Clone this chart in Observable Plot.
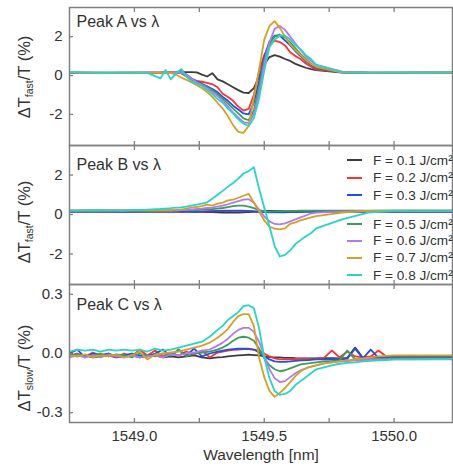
<!DOCTYPE html>
<html><head><meta charset="utf-8">
<script src="https://cdn.jsdelivr.net/npm/d3@7"></script>
<script src="https://cdn.jsdelivr.net/npm/@observablehq/plot@0.6"></script>
<style>
body{margin:0;background:#fff;font-family:"Liberation Sans",Arial,sans-serif;}
#chart{position:relative;width:453px;height:470px;overflow:hidden;background:#fff;}
#chart .panel{position:absolute;left:0;}
.ylab{position:absolute;left:25px;white-space:nowrap;font-size:16.5px;color:#333;transform:translate(-50%,-50%) rotate(-90deg);}
.ylab sub{font-size:10.5px;vertical-align:-3px;}
.leg{position:absolute;height:16px;display:flex;align-items:center;font-size:13.6px;color:#333;white-space:nowrap;}
.leg span.sw{display:inline-block;width:15px;height:2px;margin-right:11px;}
</style></head><body><div id="chart"></div><script>
// ---------- data ----------
const fluences = ["F = 0.1 J/cm²","F = 0.2 J/cm²","F = 0.3 J/cm²","F = 0.5 J/cm²","F = 0.6 J/cm²","F = 0.7 J/cm²","F = 0.8 J/cm²"];
const colors = ["#3c3c3c","#ff3030","#2050e8","#3a9e5a","#b478f0","#d6a11c","#22d6c8"];
const panelTitles = ["Peak A vs λ","Peak B vs λ","Peak C vs λ"];
const xTicks = [1549.0, 1549.25, 1549.5, 1549.75, 1550.0];
const xTickLabels = [1549.0, 1549.5, 1550.0];
const yTicksAB = [-2, 0, 2];
const yTicksC = [-0.3, 0.0, 0.3];

const gridAB = [1548.75,1548.85,1548.95,1549.05,1549.10,1549.12,1549.14,1549.16,1549.18,1549.20,1549.22,1549.24,1549.26,1549.28,1549.30,1549.32,1549.34,1549.36,1549.38,1549.40,1549.42,1549.44,1549.46,1549.48,1549.50,1549.52,1549.54,1549.56,1549.58,1549.60,1549.62,1549.64,1549.66,1549.68,1549.70,1549.80,1549.90,1550.00,1550.10,1550.25];

// Peak A (fast)
const a01 = [0.15,0.13,0.14,0.15, 0.15,0.16,0.15,0.16,0.16,0.17,0.17,0.16,0.05,-0.05,0.12, -0.2,-0.3,-0.45,-0.6,-0.75,-0.88,-0.9,-0.65,-0.05,0.55,0.95,1.05,0.97,0.85,0.75,0.6,0.5,0.4,0.33,0.28, 0.15,0.14,0.15,0.13,0.15];
const a02 = [0.13,0.15,0.12,0.14, 0.14,0.15,0.16,0.15,0.12,-0.05,-0.2,-0.28,-0.32,-0.38,-0.45, -0.6,-0.94,-1.1,-1.3,-1.6,-1.8,-1.72,-1.0,0.2,1.05,1.55,1.8,1.72,1.55,1.2,1.0,0.85,0.62,0.45,0.3, 0.17,0.15,0.13,0.15,0.14];
const a03 = [0.12,0.14,0.13,0.15, 0.15,0.14,0.15,0.13,0.3,0.05,-0.15,-0.3,-0.43,-0.55,-0.7, -0.85,-1.1,-1.3,-1.55,-1.75,-1.95,-2.0,-1.4,-0.3,0.95,1.75,2.05,2.05,1.8,1.55,1.25,1.0,0.75,0.55,0.38, 0.16,0.13,0.14,0.15,0.13];
const a05 = [0.14,0.15,0.13,0.14, 0.15,0.16,0.14,0.15,0.12,0.0,-0.2,-0.35,-0.45,-0.6,-0.75, -0.95,-1.2,-1.45,-1.7,-1.95,-2.2,-2.3,-1.8,-0.6,0.8,1.65,2.0,2.1,1.95,1.7,1.4,1.1,0.85,0.6,0.42, 0.18,0.15,0.14,0.15,0.14];
const a06 = [0.16,0.14,0.15,0.16, 0.15,0.17,0.15,0.16,0.15,0.05,-0.15,-0.35,-0.5,-0.65,-0.85, -1.05,-1.3,-1.6,-1.9,-2.15,-2.4,-2.45,-2.0,-0.9,0.6,1.7,2.4,2.55,2.35,2.0,1.65,1.3,1.0,0.75,0.55, 0.2,0.16,0.15,0.16,0.15];
const a07 = [0.15,0.14,0.16,0.15, 0.15,0.13,0.12,0.05,-0.1,-0.22,-0.35,-0.5,-0.65,-0.85,-1.1, -1.4,-1.7,-2.1,-2.55,-2.9,-2.95,-2.6,-1.15,0.3,1.85,2.55,2.8,2.45,2.0,1.6,1.3,1.05,0.8,0.6,0.45, 0.15,0.14,0.15,0.14,0.15];
const a08 = [0.17,0.15,0.16,0.14, -0.15,0.28,-0.2,0.1,0.33,-0.05,-0.3,-0.42,-0.55,-0.75,-0.95, -1.2,-1.4,-1.7,-1.95,-2.25,-2.47,-2.6,-2.2,-1.2,0.25,1.45,1.85,2.05,2.05,1.85,1.55,1.35,1.05,0.85,0.55, 0.18,0.15,0.16,0.15,0.16];

// Peak B (fast)
const b01 = [0.18,0.17,0.18,0.17, 0.18,0.17,0.18,0.17,0.16,0.16,0.15,0.14,0.13,0.12,0.12, 0.11,0.1,0.1,0.1,0.1,0.11,0.12,0.13,0.15,0.17,0.18,0.18,0.18,0.18,0.18,0.18,0.18,0.18,0.18,0.18, 0.18,0.18,0.18,0.18,0.18];
const b02 = [0.15,0.16,0.14,0.15, 0.15,0.16,0.15,0.15,0.14,0.15,0.16,0.15,0.16,0.17,0.18, 0.18,0.19,0.2,0.2,0.2,0.19,0.18,0.16,0.15,0.14,0.13,0.13,0.13,0.14,0.14,0.15,0.15,0.15,0.15,0.15, 0.15,0.15,0.15,0.15,0.15];
const b03 = [0.13,0.14,0.13,0.14, 0.14,0.13,0.14,0.13,0.13,0.13,0.14,0.14,0.15,0.15,0.16, 0.17,0.17,0.18,0.18,0.18,0.18,0.17,0.16,0.14,0.12,0.11,0.11,0.11,0.11,0.12,0.12,0.12,0.13,0.13,0.13, 0.13,0.14,0.14,0.14,0.14];
const b05 = [0.2,0.2,0.21,0.2, 0.2,0.21,0.2,0.21,0.22,0.22,0.23,0.24,0.25,0.27,0.28, 0.3,0.33,0.37,0.42,0.45,0.45,0.4,0.32,0.22,0.16,0.15,0.16,0.17,0.18,0.18,0.18,0.19,0.19,0.19,0.2, 0.2,0.2,0.2,0.2,0.2];
const b06 = [0.2,0.22,0.2,0.22, 0.22,0.2,0.22,0.2,0.22,0.22,0.25,0.28,0.3,0.33,0.35, 0.4,0.45,0.52,0.6,0.68,0.75,0.78,0.6,0.25,-0.1,-0.35,-0.48,-0.5,-0.45,-0.35,-0.25,-0.15,-0.05,0.05,0.1, 0.15,0.18,0.2,0.2,0.2];
const b07 = [0.2,0.2,0.22,0.2, 0.2,0.22,0.2,0.25,0.25,0.3,0.35,0.38,0.42,0.5,0.45, 0.55,0.6,0.72,0.75,0.85,0.95,1.05,0.6,0.15,-0.3,-0.62,-0.72,-0.75,-0.7,-0.47,-0.4,-0.3,-0.22,-0.15,-0.08, 0.1,0.18,0.2,0.2,0.2];
const b08 = [0.2,0.22,0.2,0.25, 0.28,0.3,0.32,0.35,0.36,0.4,0.45,0.5,0.55,0.62,0.8, 1.0,1.2,1.4,1.6,1.82,2.08,2.2,2.4,1.32,0.35,-0.6,-1.6,-2.13,-2.05,-1.82,-1.5,-1.3,-1.1,-0.95,-0.7, -0.25,0.1,0.18,0.2,0.2];

// Peak C (slow)
const gridC = [1548.75,1548.78,1548.81,1548.84,1548.87,1548.90,1548.93,1548.96,1548.99,1549.02,1549.05,1549.08,1549.11,1549.14,1549.17,1549.20,1549.23,1549.26,1549.29,
  1549.32,1549.34,1549.36,1549.38,1549.40,1549.42,1549.44,1549.46,1549.48,1549.50,1549.52,1549.54,1549.56,1549.58,1549.60,1549.62,1549.64,
  1549.67,1549.70,1549.73,1549.76,1549.79,1549.82,1549.85,1549.88,1549.91,1549.94,1549.97,
  1550.00,1550.05,1550.15,1550.25];
const c01 = [-0.01,-0.015,-0.01,-0.02,-0.015,-0.01,-0.02,-0.015,-0.01,-0.02,-0.015,-0.01,-0.02,-0.015,-0.02,-0.015,-0.01,-0.02,-0.025,
  -0.02,-0.018,-0.015,-0.012,-0.01,-0.008,-0.006,-0.008,-0.01,-0.015,-0.018,-0.02,-0.02,-0.022,-0.022,-0.024,-0.025,
  -0.025,-0.025,-0.024,-0.024,-0.025,-0.022,0.03,-0.022,-0.02,-0.02,-0.02,
  -0.02,-0.02,-0.02,-0.02];
const c02 = [-0.01,0.0,-0.015,0.005,-0.01,0.0,-0.02,0.0,-0.015,0.02,-0.01,0.015,-0.015,0.0,-0.01,0.01,-0.005,0.015,-0.02,
  0.005,0.01,0.015,0.018,0.02,0.022,0.022,0.02,0.015,0.0,-0.015,-0.025,-0.03,-0.03,-0.03,-0.028,-0.027,
  -0.026,-0.025,-0.022,0.015,-0.02,0.01,-0.015,-0.02,-0.015,0.015,-0.015,
  -0.015,-0.015,-0.015,-0.015];
const c03 = [0.0,0.02,-0.02,0.0,-0.01,0.0,-0.015,-0.01,0.0,-0.01,-0.015,0.0,0.02,-0.015,0.02,-0.01,0.025,-0.015,0.0,
  0.01,0.015,0.02,0.022,0.024,0.025,0.024,0.02,0.005,-0.015,-0.03,-0.04,-0.042,-0.042,-0.04,-0.037,-0.035,
  -0.033,-0.03,-0.03,-0.028,-0.028,-0.027,0.025,-0.025,0.02,-0.022,-0.02,
  -0.02,-0.02,-0.02,-0.02];
const c05 = [-0.01,-0.005,-0.015,-0.01,0.0,-0.015,-0.005,-0.01,-0.02,0.0,-0.01,-0.015,0.0,-0.01,0.02,-0.015,0.0,0.005,0.01,
  0.02,0.03,0.045,0.065,0.08,0.085,0.08,0.065,0.025,-0.025,-0.06,-0.08,-0.09,-0.085,-0.075,-0.065,-0.055,
  -0.05,-0.045,-0.04,-0.038,-0.035,0.015,-0.03,-0.03,-0.028,-0.027,-0.026,
  -0.025,-0.025,-0.025,-0.025];
const c06 = [-0.02,-0.01,-0.02,-0.01,-0.02,-0.005,-0.015,-0.02,-0.01,-0.02,-0.015,-0.01,-0.02,-0.005,-0.01,0.0,0.005,0.015,0.02,
  0.04,0.055,0.075,0.1,0.12,0.13,0.13,0.11,0.06,-0.01,-0.08,-0.125,-0.145,-0.14,-0.12,-0.1,-0.085,
  -0.07,-0.06,-0.05,-0.045,-0.04,-0.038,-0.035,-0.033,-0.03,-0.03,-0.03,
  -0.03,-0.03,-0.03,-0.03];
const c07 = [-0.01,-0.015,-0.005,-0.02,-0.01,-0.015,-0.005,-0.02,-0.01,0.01,-0.03,-0.005,0.0,0.005,0.01,0.02,0.03,0.04,0.055,
  0.08,0.1,0.125,0.16,0.19,0.2,0.2,0.14,-0.02,-0.12,-0.19,-0.22,-0.2,-0.175,-0.145,-0.115,-0.09,
  -0.07,-0.06,-0.05,-0.045,-0.04,-0.035,-0.03,-0.025,-0.02,-0.015,-0.012,
  -0.01,-0.01,-0.01,-0.01];
const c08 = [0.01,0.02,0.015,0.02,0.01,0.02,0.015,0.02,0.015,0.02,0.01,0.025,0.015,0.02,0.03,0.04,0.05,0.06,0.085,
  0.12,0.14,0.17,0.19,0.21,0.24,0.245,0.23,0.13,-0.02,-0.125,-0.19,-0.21,-0.205,-0.19,-0.16,-0.14,
  -0.11,-0.08,-0.07,-0.06,-0.052,-0.048,-0.045,-0.04,-0.037,-0.035,-0.033,
  -0.03,-0.03,-0.028,-0.028];

// ---------- build ----------
function tidy(grid, list) {
  return list.flatMap((vals, i) => vals.map((v, j) => ({wl: grid[j], v, s: fluences[i]})));
}
const dataA = tidy(gridAB, [a01,a02,a03,a05,a06,a07,a08]);
const dataB = tidy(gridAB, [b01,b02,b03,b05,b06,b07,b08]);
const dataC = tidy(gridC, [c01,c02,c03,c05,c06,c07,c08]);

const FONT = '"Liberation Sans", Arial, sans-serif';
const FRAME = "#808080";
const TXT = "#333";

function panel({data, yDomain, yTicks, fmt, height, marginTop, marginBottom, title, titleDy, showX}) {
  return Plot.plot({
    width: 453, height, marginLeft: 69, marginRight: 1, marginTop, marginBottom,
    style: {fontFamily: FONT, fontSize: "14.5px", color: TXT, background: "transparent", overflow: "visible"},
    x: {domain: [1548.75, 1550.225]},
    y: {domain: yDomain},
    color: {domain: fluences, range: colors},
    marks: [
      Plot.line(data, {x: "wl", y: "v", z: "s", stroke: "s", strokeWidth: 1.8, strokeLinejoin: "round", clip: true}),
      Plot.frame({stroke: FRAME, strokeWidth: 1.5}),
      Plot.axisX({anchor: "top", ticks: xTicks, tickSize: -4, fill: "none", stroke: FRAME, strokeWidth: 1.3, label: null}),
      Plot.axisX({anchor: "bottom", ticks: xTicks, tickSize: -4, fill: "none", stroke: FRAME, strokeWidth: 1.3, label: null}),
      showX ? Plot.axisX({anchor: "bottom", ticks: xTickLabels, tickSize: 0, tickPadding: 8, tickFormat: d => d.toFixed(1), fill: TXT, label: null, fontSize: 15}) : null,
      showX ? Plot.text(["Wavelength [nm]"], {text: d => d, frameAnchor: "bottom", dy: 33, fontSize: 15.5, fill: TXT, lineAnchor: "middle"}) : null,
      Plot.axisY({anchor: "left", ticks: yTicks, tickSize: -4, fill: "none", stroke: FRAME, strokeWidth: 1.3, label: null}),
      Plot.axisY({anchor: "left", ticks: yTicks, tickSize: 0, tickPadding: 7, tickFormat: fmt, fill: TXT, label: null, fontSize: 15}),
      Plot.text([title], {text: d => d, frameAnchor: "top-left", dx: 7, dy: titleDy, lineAnchor: "top", fontSize: 16, fill: TXT})
    ]
  });
}

const chart = document.getElementById("chart");
const specs = [
  {top: 0, data: dataA, yDomain: [-3.6, 3.5], yTicks: yTicksAB, fmt: d => String(d), height: 146, marginTop: 7, marginBottom: 1, title: panelTitles[0], titleDy: 8, showX: false},
  {top: 144, data: dataB, yDomain: [-3.55, 3.5], yTicks: yTicksAB, fmt: d => String(d), height: 141, marginTop: 1, marginBottom: 1, title: panelTitles[1], titleDy: 13, showX: false},
  {top: 283, data: dataC, yDomain: [-0.35, 0.35], yTicks: yTicksC, fmt: d => d.toFixed(1), height: 187, marginTop: 1, marginBottom: 48, title: panelTitles[2], titleDy: 14, showX: true}
];
for (const s of specs) {
  const el = panel(s);
  el.classList.add("panel");
  el.style.top = s.top + "px";
  chart.appendChild(el);
}

// y-axis titles with subscripts
const ylabs = [{y: 77, sub: "fast"}, {y: 222, sub: "fast"}, {y: 368, sub: "slow"}];
for (const l of ylabs) {
  const d = document.createElement("div");
  d.className = "ylab";
  d.style.top = l.y + "px";
  d.append("ΔT");
  const sb = document.createElement("sub"); sb.textContent = l.sub; d.append(sb);
  d.append("/T (%)");
  chart.appendChild(d);
}

// legend (inside panel B)
const legendTop = [160, 177.5, 195, 224, 240.5, 257.5, 275];
fluences.forEach((f, i) => {
  const row = document.createElement("div");
  row.className = "leg";
  row.style.left = "347px";
  row.style.top = (legendTop[i] - 8) + "px";
  const sw = document.createElement("span"); sw.className = "sw"; sw.style.background = colors[i];
  row.appendChild(sw);
  row.append(f);
  chart.appendChild(row);
});
</script></body></html>
